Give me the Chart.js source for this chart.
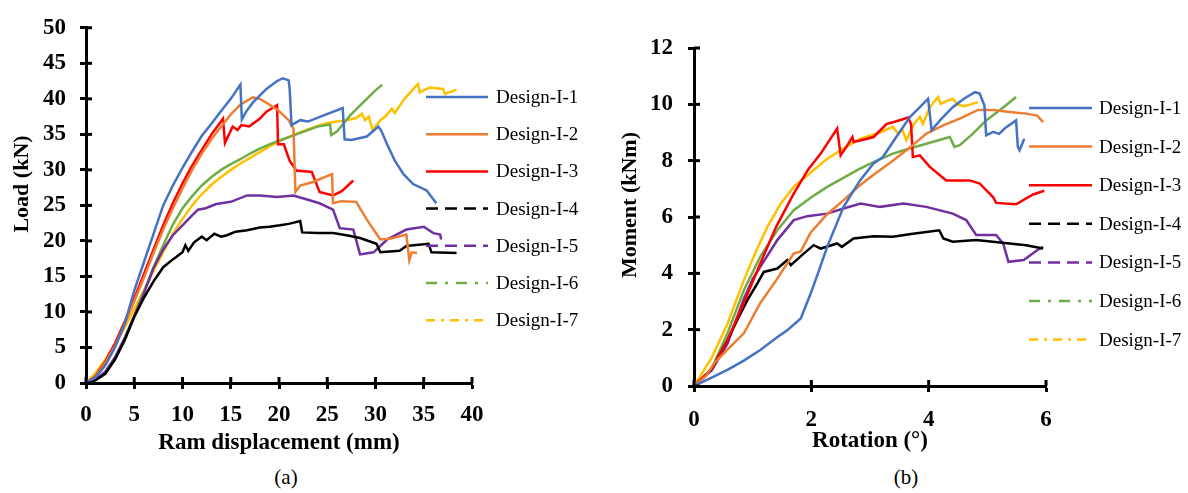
<!DOCTYPE html>
<html>
<head>
<meta charset="utf-8">
<script src="https://cdn.jsdelivr.net/npm/chart.js@4.4.1/dist/chart.umd.min.js"></script>
<style>
  html, body { margin: 0; padding: 0; background: #fff; }
  #wrap { position: relative; width: 1188px; height: 493px; overflow: hidden; }
  #chartA { position: absolute; left: 0; top: 0; }
  #chartB { position: absolute; left: 600px; top: 0; }
  .cap { position: absolute; top: 465px; width: 60px; margin-left: -30px; text-align: center;
         font: 21px "Liberation Serif", "Times New Roman", serif; color: #000; }
</style>
</head>
<body>
<div id="wrap">
  <canvas id="chartA" width="600" height="460"></canvas>
  <canvas id="chartB" width="588" height="460"></canvas>
  <div class="cap" style="left:286px">(a)</div>
  <div class="cap" style="left:906px">(b)</div>
</div>
<script>
// series names / colours / legend dash styles
const seriesNames = ['Design-I-1', 'Design-I-2', 'Design-I-3', 'Design-I-4', 'Design-I-5', 'Design-I-6', 'Design-I-7'];
const seriesColors = ['#4472C4', '#ED7D31', '#FF0000', '#000000', '#7030A0', '#70AD47', '#FFC000'];
const legendDash = [[], [], [], [12, 7], [12, 7], [11, 8, 3, 8], [9, 6, 3, 6]];

// (a) Load (kN) vs ram displacement (mm)  -> [x, y]
const loadD1 = [[0,0],[1,0.8],[2,2.5],[3,5],[4,8.3],[5,13],[6,17],[7,21],[8,25],[9,27.8],[10,30.3],[11,32.6],[12,34.8],[13,36.5],[14,38.3],[15,40],[16,42],[16.15,37.1],[16.6,38.2],[17.3,39.5],[18.7,41.4],[19.8,42.5],[20.4,42.9],[21,42.6],[21.1,41.5],[21.3,36.3],[22.2,37],[23,36.8],[24.5,37.6],[26.6,38.7],[26.8,34.3],[27.5,34.2],[29.1,34.7],[30.3,36.1],[30.6,35.5],[31.2,33.6],[32,31.3],[32.9,29.4],[33.9,28],[35.3,27.1],[36.3,25.3]];
const loadD2 = [[0,0],[1,0.9],[2,2.8],[3,5.2],[4,8.2],[5,11.5],[6,14.8],[7,18.3],[8,21.6],[9,24.6],[10,27.4],[11,30],[12,32.3],[13,34.3],[14,36.1],[15,37.8],[16,39.2],[17.3,40.2],[18,40],[19,39.2],[20,38.3],[21,37],[21.5,35.8],[21.7,26.9],[22.2,27.8],[23.5,28.3],[25.5,29.4],[25.6,25.3],[26.5,25.6],[28,25.5],[29.1,23],[30.5,20.2],[31.5,20.3],[33.2,20.9],[33.5,17.3],[33.75,18.4],[34.3,18.3]];
const loadD3 = [[0,0],[1,1],[2,3],[3,5.6],[4,8.6],[5,11.9],[6,15.3],[7,18.8],[8,22.2],[9,25.3],[10,28.1],[11,30.6],[12,32.8],[13,35],[14.2,37.2],[14.4,33.8],[15.2,36.1],[15.7,35.6],[16.1,36.3],[16.9,36.1],[18,37.2],[18.7,38.2],[19.8,39.1],[19.9,33.6],[20.5,33.6],[21.1,31.3],[21.8,29.9],[23.4,29.7],[24.2,26.9],[25.6,26.4],[26.5,27],[27.7,28.5]];
const loadD4 = [[0,0],[1,0.4],[2,1.3],[3,3.3],[4,6],[5,9.3],[6,12],[7,14.3],[8,16.3],[9,17.4],[10,18.4],[10.3,19.4],[10.6,18.6],[11.2,19.8],[12,20.6],[12.5,20.1],[13.3,21],[14,20.6],[14.6,20.8],[15.5,21.3],[16.7,21.5],[18,21.9],[19,22],[20.1,22.2],[21,22.4],[22.2,22.8],[22.4,21.2],[24,21.1],[25.6,21.1],[27,20.8],[28.4,20.4],[30.1,19.6],[30.5,18.4],[32.5,18.6],[33.2,19.3],[35.5,19.6],[35.8,18.4],[38.4,18.3]];
const loadD5 = [[0,0],[1,0.5],[2,1.6],[3,3.6],[4,6.3],[5,9.4],[6,12.6],[7,16.2],[8,18.8],[9,20.8],[10,22.2],[11,23.6],[11.6,24.4],[12.4,24.6],[13.5,25.2],[15,25.5],[16.7,26.4],[18,26.4],[19.8,26.2],[21.5,26.4],[23,25.8],[24.2,25.3],[25.6,24.4],[26.3,21.8],[27.7,21.6],[28.4,18.1],[29.8,18.4],[31.2,20.2],[33.2,21.6],[35,22],[36,21.1],[36.7,20.9],[36.8,20.2]];
const loadD6 = [[0,0],[1,0.4],[2,1.5],[3,3.4],[4,6.3],[5,9.5],[6,12.9],[7,16.3],[8,19.4],[9,22.3],[10,24.6],[11,26.3],[12,27.8],[13,29],[14,30],[15,30.8],[16,31.5],[17,32.3],[18,33],[19,33.6],[20,34.1],[21,34.6],[22,35.1],[23,35.6],[24,36.1],[25.3,36.4],[25.4,34.9],[26,35.4],[27.4,37.7],[28.2,38.8],[29.1,40],[30,41.2],[30.7,42]];
const loadD7 = [[0,0],[1,1.4],[2,3.3],[3,5.4],[4,7.8],[5,10.4],[6,13],[7,15.8],[8,18.4],[9,21],[10,23.1],[11,25],[12,26.6],[13,27.9],[14,29],[15,30],[16,30.9],[17,31.7],[18,32.5],[19,33.3],[20,34],[21,34.6],[22,35.2],[23,35.7],[24,36.2],[25,36.6],[26,36.8],[27,37],[28,37.3],[28.6,37.9],[28.9,37],[29.3,37.5],[29.7,35.6],[30.5,37],[31,37.5],[31.7,38.6],[32,38],[33,40],[34.4,42.1],[34.6,40.9],[35.6,41.6],[37,41.4],[37.2,40.7],[38.4,41.3]];

// (b) Moment (kNm) vs rotation (deg)  -> [x, y]
const momD1 = [[0,0],[0.3,0.3],[0.57,0.57],[0.85,0.9],[1.13,1.28],[1.4,1.7],[1.6,2],[1.82,2.4],[1.99,3.29],[2.13,4.1],[2.27,4.94],[2.55,6.36],[2.83,7.3],[3.06,7.9],[3.22,8.13],[3.45,8.85],[3.68,9.55],[3.85,9.9],[3.99,10.2],[4.05,9.08],[4.2,9.45],[4.41,9.9],[4.6,10.2],[4.79,10.43],[4.87,10.38],[4.95,9.96],[4.98,8.9],[5.1,9.02],[5.2,8.95],[5.3,9.15],[5.49,9.43],[5.52,8.49],[5.55,8.37],[5.63,8.78]];
const momD2 = [[0,0],[0.2,0.35],[0.34,0.8],[0.6,1.35],[0.85,1.87],[1.13,2.95],[1.4,3.75],[1.7,4.7],[1.82,4.78],[1.99,5.45],[2.27,6.1],[2.55,6.6],[2.83,7.13],[3.06,7.5],[3.39,8],[3.7,8.5],[3.96,8.96],[4.25,9.25],[4.53,9.49],[4.84,9.8],[5.1,9.8],[5.38,9.73],[5.66,9.67],[5.85,9.6],[5.95,9.37]];
const momD3 = [[0,0],[0.3,0.6],[0.57,1.63],[0.85,2.95],[1.13,4.35],[1.4,5.65],[1.7,6.83],[1.95,7.7],[2.16,8.25],[2.44,9.14],[2.5,8.19],[2.6,8.5],[2.7,8.84],[2.72,8.66],[2.9,8.75],[3.06,8.84],[3.28,9.3],[3.45,9.4],[3.65,9.53],[3.7,9.3],[3.73,8.13],[3.85,8.19],[4.02,7.78],[4.3,7.3],[4.7,7.3],[4.87,7.19],[5.1,6.7],[5.15,6.5],[5.49,6.45],[5.78,6.8],[5.97,6.93]];
const momD4 = [[0,0],[0.3,0.6],[0.57,1.63],[0.75,2.4],[0.91,3.05],[1.08,3.64],[1.19,4.05],[1.42,4.17],[1.59,4.47],[1.65,4.29],[1.87,4.7],[2.04,5],[2.16,4.88],[2.44,5.06],[2.52,4.94],[2.72,5.24],[3.06,5.32],[3.39,5.3],[3.7,5.4],[3.96,5.47],[4.18,5.53],[4.25,5.24],[4.41,5.12],[4.81,5.18],[5.38,5.06],[5.66,5],[5.95,4.88]];
const momD5 = [[0,0],[0.3,0.55],[0.57,1.5],[0.85,3.1],[1,3.8],[1.13,4.23],[1.42,5.18],[1.7,5.89],[1.93,6.03],[2.27,6.12],[2.55,6.3],[2.84,6.48],[3.17,6.36],[3.57,6.48],[3.96,6.36],[4.41,6.12],[4.64,5.89],[4.81,5.36],[5.15,5.36],[5.27,5.06],[5.36,4.41],[5.62,4.47],[5.85,4.82],[5.95,4.94]];
const momD6 = [[0,0],[0.3,0.6],[0.57,1.87],[0.85,3.4],[1.13,4.59],[1.42,5.53],[1.7,6.24],[2,6.7],[2.27,7.07],[2.6,7.45],[2.83,7.72],[3.06,7.95],[3.39,8.25],[3.7,8.45],[3.96,8.6],[4.36,8.84],[4.44,8.49],[4.53,8.55],[4.75,8.95],[4.98,9.43],[5.25,9.85],[5.49,10.26]];
const momD7 = [[0,0],[0.3,1],[0.57,2.2],[0.85,3.76],[1.05,4.75],[1.25,5.65],[1.48,6.48],[1.7,7.07],[2,7.6],[2.27,8.07],[2.6,8.5],[2.83,8.77],[3.17,9],[3.39,9.2],[3.48,8.96],[3.55,9.1],[3.62,8.72],[3.75,9.3],[3.85,9.55],[3.9,9.3],[4.02,9.9],[4.16,10.26],[4.2,10.02],[4.41,10.2],[4.5,9.98],[4.61,9.93],[4.84,10.08]];

const loadSeries = [loadD1, loadD2, loadD3, loadD4, loadD5, loadD6, loadD7];
const momSeries = [momD1, momD2, momD3, momD4, momD5, momD6, momD7];

const FONT = '"Liberation Serif", "Times New Roman", serif';

// inward half of the tick marks (Excel-style "cross" ticks)
const crossTicks = {
    id: 'crossTicks',
    afterDraw(chart) {
        const ctx = chart.ctx;
        ctx.save();
        ctx.strokeStyle = '#000';
        ctx.lineWidth = 3;
        const xs = chart.scales.x, ys = chart.scales.y;
        xs.ticks.forEach(t => {
            const px = xs.getPixelForValue(t.value);
            ctx.beginPath(); ctx.moveTo(px, xs.top); ctx.lineTo(px, xs.top - 6); ctx.stroke();
        });
        ys.ticks.forEach(t => {
            const py = ys.getPixelForValue(t.value);
            ctx.beginPath(); ctx.moveTo(ys.right, py); ctx.lineTo(ys.right + 6, py); ctx.stroke();
        });
        ctx.restore();
    }
};

// legend drawn over the right part of the plot, plus the rotated y title
const sideLegend = {
    id: 'sideLegend',
    afterDraw(chart, args, opts) {
        const ctx = chart.ctx;
        chart.data.datasets.forEach((ds, i) => {
            const y = opts.top + i * opts.step;
            ctx.save();
            ctx.strokeStyle = ds.borderColor;
            ctx.lineWidth = 2.5;
            ctx.setLineDash(legendDash[i]);
            ctx.beginPath(); ctx.moveTo(opts.x1, y); ctx.lineTo(opts.x2, y); ctx.stroke();
            ctx.setLineDash([]);
            ctx.fillStyle = '#000';
            ctx.font = '19px ' + FONT;
            ctx.textBaseline = 'middle';
            ctx.fillText(ds.label, opts.textX, y + 1);
            ctx.restore();
        });
        // y-axis title
        ctx.save();
        ctx.translate(opts.yTitleX, opts.yTitleY);
        ctx.rotate(-Math.PI / 2);
        ctx.fillStyle = '#000';
        ctx.font = 'bold 22px ' + FONT;
        ctx.textAlign = 'center';
        ctx.textBaseline = 'middle';
        ctx.fillText(opts.yTitle, 0, 0);
        ctx.restore();
    }
};

function makeAxis(min, max, step, title, isX, tickPad, titlePad, size) {
    return {
        type: 'linear', min: min, max: max,
        ticks: { stepSize: step, color: '#000', padding: tickPad,
                 font: { family: FONT, size: 23, weight: 'bold' } },
        grid: { display: true, drawOnChartArea: false, drawTicks: true,
                tickLength: 6, tickWidth: 3, tickColor: '#000' },
        border: { display: true, color: '#000', width: 3 },
        title: { display: isX, text: title, color: '#000', padding: titlePad,
                 font: { family: FONT, size: 23, weight: 'bold' } },
        afterFit: s => { if (isX) s.height = size; else s.width = size; }
    };
}

function makeChart(id, series, xAxis, yAxis, pad, legendOpts) {
    return new Chart(document.getElementById(id), {
        type: 'scatter',
        data: {
            datasets: series.map((pts, i) => ({
                label: seriesNames[i],
                data: pts.map(p => ({ x: p[0], y: p[1] })),
                showLine: true,
                borderColor: seriesColors[i],
                backgroundColor: seriesColors[i],
                borderWidth: 2.5,
                pointRadius: 0,
                tension: 0
            }))
        },
        options: {
            responsive: false,
            animation: false,
            events: [],
            layout: { padding: pad },
            scales: { x: xAxis, y: yAxis },
            plugins: { legend: { display: false }, tooltip: { enabled: false }, sideLegend: legendOpts }
        },
        plugins: [crossTicks, sideLegend]
    });
}

makeChart('chartA', loadSeries,
    makeAxis(0, 40, 5, 'Ram displacement (mm)', true, 12, { top: 0, bottom: 3 }, 77),
    makeAxis(0, 50, 5, 'Load (kN)', false, 14, 0, 86),
    { left: 0, top: 21, right: 128, bottom: 0 },
    { x1: 426, x2: 488, textX: 496, top: 97, step: 37.2, yTitle: 'Load (kN)', yTitleX: 22, yTitleY: 184 });

makeChart('chartB', momSeries,
    makeAxis(0, 6, 2, 'Rotation (°)', true, 14, { top: 0, bottom: 5 }, 74),
    makeAxis(0, 12, 2, 'Moment (kNm)', false, 15, 0, 94),
    { left: 0, top: 48, right: 142, bottom: 0 },
    { x1: 429, x2: 492, textX: 499, top: 108, step: 38.6, yTitle: 'Moment (kNm)', yTitleX: 30, yTitleY: 205 });
</script>
</body>
</html>
